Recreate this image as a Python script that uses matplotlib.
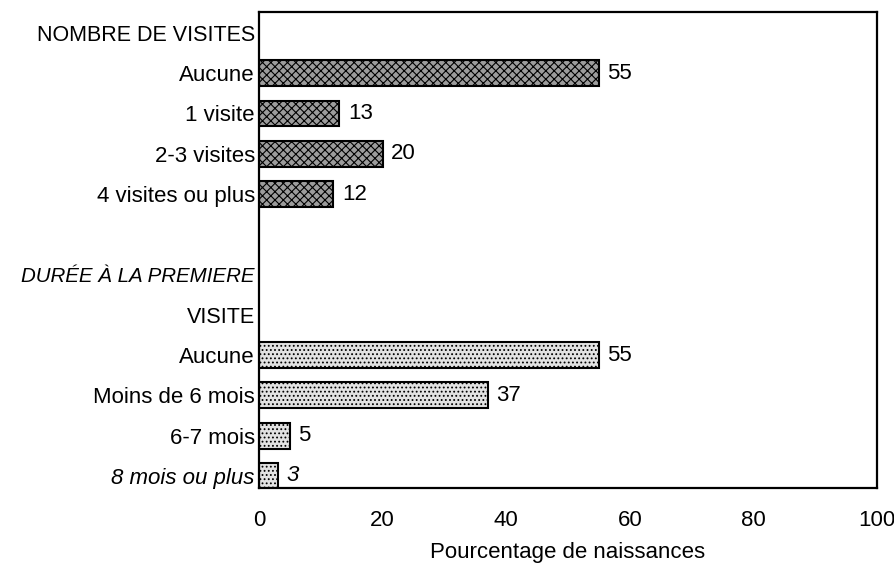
import matplotlib.pyplot as plt

plt.rcParams['font.family'] = ['Liberation Sans', 'DejaVu Sans']

# rows from top to bottom ('' = empty row)
labels = ['NOMBRE DE VISITES', 'Aucune', '1 visite', '2-3 visites', '4 visites ou plus',
          '', 'DURÉE À LA PREMIERE', 'VISITE', 'Aucune', 'Moins de 6 mois',
          '6-7 mois', '8 mois ou plus']
visites = [55, 13, 20, 12]          # rows 1-4
duree = [55, 37, 5, 3]              # rows 8-11
rows_visites = [1, 2, 3, 4]
rows_duree = [8, 9, 10, 11]
xticks = [0, 20, 40, 60, 80, 100]

plt.rcParams['hatch.color'] = '#555555'
plt.rcParams['hatch.linewidth'] = 0.8

fig = plt.figure(figsize=(8.94, 5.69), dpi=100)
ax = fig.add_axes([259/894, 1-488/569, (877-259)/894, (488-12)/569])

ax.barh(rows_visites, visites, height=0.64, color='#9c9c9c', edgecolor='black',
        linewidth=1.5, hatch='xxxx')
ax.barh(rows_duree, duree, height=0.64, color='#e2e2e2', edgecolor='black',
        linewidth=1.5, hatch='....')

fs = 16
for r, v in zip(rows_visites, visites):
    ax.text(v + 1.4, r, str(v), va='center', ha='left', fontsize=fs)
for r, v in zip(rows_duree, duree):
    st = 'italic' if r == 11 else 'normal'
    ax.text(v + 1.4, r, str(v), va='center', ha='left', fontsize=fs, style=st)

ax.set_xlim(0, 100)
ax.set_ylim(11.3, -0.52)
ax.set_yticks(range(len(labels)))
ax.set_yticklabels(labels, fontsize=fs)
for i, t in enumerate(ax.get_yticklabels()):
    if i in (0, 7):
        t.set_fontsize(15.5)
    if i == 6:
        t.set_fontsize(14.8)
    if i in (6, 11):
        t.set_style('italic')
ax.set_xticks(xticks)
ax.set_xticklabels([str(x) for x in xticks], fontsize=fs)
ax.tick_params(axis='both', length=0)
ax.tick_params(axis='x', pad=16)
ax.tick_params(axis='y', pad=3)
ax.set_xlabel('Pourcentage de naissances', fontsize=fs, labelpad=8)
for s in ax.spines.values():
    s.set_linewidth(1.6)

fig.savefig('out.png', dpi=100)
